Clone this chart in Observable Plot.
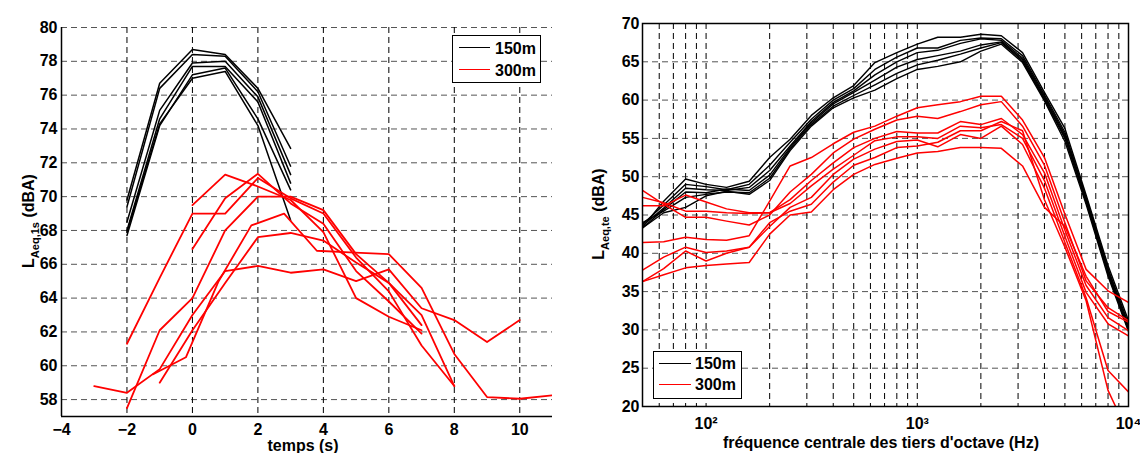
<!DOCTYPE html>
<html><head><meta charset="utf-8">
<script src="https://cdn.jsdelivr.net/npm/d3@7"></script>
<script src="https://cdn.jsdelivr.net/npm/@observablehq/plot@0.6"></script>
<style>
body{margin:0;background:#fff;}
#wrap{position:relative;width:1140px;height:453px;overflow:hidden;font-family:"Liberation Sans",Arial,sans-serif;font-weight:bold;color:#000;background:#fff;}
.host{position:absolute;top:0;}
.host svg{font:bold 16px "Liberation Sans",Arial,sans-serif;overflow:visible;background:transparent}
.legend{position:absolute;background:#fff;border:1.5px solid #000;box-sizing:border-box;font-size:16px;line-height:16px;}
.legend .ln{position:absolute;height:0;}
.legend .tx{position:absolute;white-space:nowrap;}
.ylab{position:absolute;white-space:nowrap;font-size:16px;line-height:16px;transform:translate(-50%,-50%) rotate(-90deg);}
.ylab sub{font-size:11px;position:relative;top:5px;vertical-align:baseline;}
.xlab{position:absolute;white-space:nowrap;font-size:16px;line-height:13px;transform:translateX(-50%);}
</style>
</head><body>
<div id="wrap">
  <div id="left" class="host" style="left:0"></div>
  <div id="right" class="host" style="left:570px"></div>

  <div class="ylab" style="left:29px;top:221px">L<sub>Aeq,1s</sub> (dBA)</div>
  <div class="xlab" style="left:303px;top:439px">temps (s)</div>
  <div class="ylab" style="left:599px;top:214px">L<sub>Aeq,te</sub> (dBA)</div>
  <div class="xlab" style="left:881px;top:436px">fréquence centrale des tiers d'octave (Hz)</div>

  <div class="legend" style="left:452px;top:35px;width:89px;height:48px">
    <div class="ln" style="left:6px;top:11px;width:31px;border-top:1.5px solid #000"></div>
    <div class="tx" style="left:42px;top:5px">150m</div>
    <div class="ln" style="left:6px;top:33px;width:31px;border-top:1.5px solid #ff0000"></div>
    <div class="tx" style="left:42px;top:27px">300m</div>
  </div>
  <div class="legend" style="left:653px;top:351px;width:89px;height:48px">
    <div class="ln" style="left:5px;top:11px;width:32px;border-top:1.5px solid #000"></div>
    <div class="tx" style="left:41px;top:4px">150m</div>
    <div class="ln" style="left:5px;top:32px;width:32px;border-top:1.5px solid #ff0000"></div>
    <div class="tx" style="left:41px;top:25px">300m</div>
  </div>
</div>
<script>
// ---------- Left panel: L_Aeq,1s vs time ----------
const timeTicks = [-4, -2, 0, 2, 4, 6, 8, 10];
const levelTicksLeft = [58, 60, 62, 64, 66, 68, 70, 72, 74, 76, 78, 80];

// 150 m passes, sampled at t = -2 .. 3 s
const time150 = [-2, -1, 0, 1, 2, 3];
const pass150_1 = [69.8, 76.7, 78.7, 78.4, 76.4, 72.85];
const pass150_2 = [69.4, 76.4, 78.4, 78.3, 76.2, 71.8];
const pass150_3 = [68.5, 75.1, 77.9, 78.0, 75.9, 71.3];
const pass150_4 = [68.0, 74.6, 77.7, 77.7, 75.6, 70.8];
const pass150_5 = [67.7, 74.2, 77.2, 77.6, 74.6, 70.4];
const pass150_6 = [67.9, 74.3, 77.0, 77.4, 74.2, 68.6];

// 300 m passes, [time, level]
const pass300_a = [[0,69.5],[1,71.3],[2,70.6],[3,69.8],[4,67.9],[5,64.0],[6,62.9],[7,62.1]];
const pass300_b = [[-2,61.3],[-1,65.2],[0,69.0],[1,69.0],[2,71.1],[3,69.9],[4,69.0],[5,66.4],[6,64.4],[7,61.2],[8,58.8]];
const pass300_c = [[0,66.9],[1,69.9],[2,71.35],[3,69.6],[4,68.4],[5,65.6],[6,63.8],[7,61.9]];
const pass300_d = [[-2,57.5],[-1,62.1],[0,64.0],[1,68.0],[2,70.0],[3,70.0],[4,69.2],[5,66.6],[6,64.9],[7,63.0],[8,58.8]];
const pass300_e = [[-1.2,59.5],[-0.2,60.5],[0.8,65.0],[1.8,68.3],[2.8,69.0],[3.8,66.8],[4.8,66.7],[6,66.6],[7,64.6],[8,60.7],[9,58.15],[10,58.05],[11,58.25]];
const pass300_h = [[-3,58.8],[-2,58.4],[-1,59.8],[0,63.0],[1,65.6],[2,65.9],[3,65.5],[4,65.7],[5,65.0],[6,65.7],[7,63.4],[8,62.7],[9,61.4],[10,62.7]];
const pass300_i = [[-1,59.0],[0,62.1],[1,64.9],[2,67.6],[3,67.85],[4,67.4],[5,66.1],[6,64.9],[7,62.4]];

// ---------- Right panel: third-octave spectra ----------
const bands = [50,63,80,100,125,160,200,250,315,400,500,630,800,1000,1250,1600,2000,2500,3150,4000,5000,6300,8000,10000];
const freqGrid = [60,70,80,90,100,200,300,400,500,600,700,800,900,1000,2000,3000,4000,5000,6000,7000,8000,9000];
const freqLabelTicks = [100, 1000, 10000];
const freqLabels = ["10²", "10³", "10⁴"];
const levelTicksRight = [20, 25, 30, 35, 40, 45, 50, 55, 60, 65, 70];

const spec150_1 = [43.4,46.8,49.7,49.0,48.6,49.4,52.5,54.9,58.0,60.3,61.9,64.9,66.2,67.3,68.2,68.2,68.6,68.4,66.2,61.0,56.3,47.6,38.4,31.2];
const spec150_2 = [43.8,46.3,49.0,48.7,48.3,49.0,51.5,54.5,57.5,60.0,61.5,64.0,65.6,66.8,66.8,67.8,68.1,68.0,65.8,60.7,55.8,47.3,38.0,30.8];
const spec150_3 = [43.6,45.9,48.5,48.3,48.2,48.6,50.8,54.0,57.2,59.7,61.2,63.3,65.0,66.2,66.5,67.4,68.0,67.8,65.5,60.5,55.5,47.1,37.8,30.5];
const spec150_4 = [43.3,45.7,48.0,47.9,48.4,48.2,50.2,53.8,57.0,59.5,61.0,62.6,64.3,65.3,65.8,66.4,67.2,67.6,65.3,60.3,55.2,46.9,37.5,30.2];
const spec150_5 = [44.0,45.5,47.3,47.7,48.0,47.9,49.8,53.6,56.8,59.2,60.6,62.0,63.5,64.6,65.2,66.0,66.8,67.5,65.1,60.1,55.0,46.7,37.3,30.0];
const spec150_6 = [43.3,45.3,46.0,47.5,48.1,47.7,49.5,53.4,56.6,59.0,60.3,61.3,62.8,64.0,64.4,65.0,66.4,67.3,64.9,59.9,54.6,46.4,37.0,29.8];

const spec300_1 = [41.4,41.5,42.1,41.8,41.7,42.3,46.8,51.4,52.5,54.3,55.8,56.6,57.9,59.0,59.4,59.8,60.5,60.5,57.4,52.5,45.1,37.9,35.1,33.6];
const spec300_2 = [48.2,46.4,44.7,44.7,44.2,43.7,45.0,48.0,50.3,53.1,54.9,56.2,57.4,57.9,57.6,58.5,59.4,59.8,56.6,51.5,44.0,36.4,32.9,31.2];
const spec300_3 = [47.3,46.6,45.5,45.5,45.3,45.2,45.3,47.0,49.5,51.8,53.8,55.0,55.9,55.7,55.7,57.2,56.8,57.6,55.5,50.5,43.0,35.8,31.6,29.9];
const spec300_4 = [46.2,46.2,47.6,46.7,45.8,45.3,45.3,46.5,48.8,51.0,52.8,54.7,55.2,55.2,55.0,56.6,56.4,56.8,55.0,49.5,42.2,34.9,30.8,29.2];
const spec300_5 = [37.8,39.5,40.8,40.1,40.3,40.8,43.5,46.0,47.3,50.3,52.3,53.6,54.6,54.8,53.9,55.5,55.0,56.6,54.2,48.5,41.4,34.2,24.7,21.9];
const spec300_6 = [36.3,38.0,40.3,39.0,40.0,40.8,44.0,45.5,46.4,49.3,51.5,52.5,53.8,54.0,54.5,56.0,56.0,57.2,56.0,47.0,40.8,33.8,22.1,16.4];
const spec300_7 = [36.3,37.2,38.1,38.4,38.6,38.8,42.5,45.0,45.4,48.3,50.3,51.6,52.4,53.1,53.3,53.8,53.8,53.7,51.4,46.0,43.5,37.0,32.4,31.0];

// ---------- build tables ----------
const rows150 = [pass150_1,pass150_2,pass150_3,pass150_4,pass150_5,pass150_6]
  .flatMap((vals, k) => vals.map((v, j) => ({id: k, t: time150[j], v})));
const rows300 = [pass300_a,pass300_b,pass300_c,pass300_d,pass300_e,pass300_h,pass300_i]
  .flatMap((pts, k) => pts.map(([t, v]) => ({id: k, t, v})));

const specRows150 = [spec150_1,spec150_2,spec150_3,spec150_4,spec150_5,spec150_6]
  .flatMap((vals, k) => vals.map((v, j) => ({id: k, f: bands[j], v})));
const specRows300 = [spec300_1,spec300_2,spec300_3,spec300_4,spec300_5,spec300_6,spec300_7]
  .flatMap((vals, k) => vals.map((v, j) => ({id: k, f: bands[j], v})));

const dash = "6,4";

const leftPlot = Plot.plot({
  width: 570, height: 453,
  marginLeft: 61, marginRight: 18, marginTop: 27, marginBottom: 37,
  x: {domain: [-4, 11]},
  y: {domain: [57, 80]},
  marks: [
    Plot.gridY(levelTicksLeft, {stroke: "#555", strokeOpacity: 1, strokeDasharray: dash}),
    Plot.gridX(timeTicks, {stroke: "#000", strokeOpacity: 1, strokeDasharray: dash}),
    Plot.line(rows150, {x: "t", y: "v", z: "id", stroke: "#000", strokeWidth: 1.5, clip: true}),
    Plot.line(rows300, {x: "t", y: "v", z: "id", stroke: "#ff0000", strokeWidth: 1.8, clip: true}),
    Plot.ruleX([-4], {stroke: "#000", strokeWidth: 1.5}),
    Plot.ruleY([57], {stroke: "#000", strokeWidth: 1.5}),
    Plot.axisY(levelTicksLeft, {tickSize: 0, tickPadding: 4, label: null, fill: "#000"}),
    Plot.axisX(timeTicks, {tickSize: 0, tickPadding: 7, label: null, fill: "#000"})
  ]
});
document.getElementById("left").appendChild(leftPlot);

const labelOf = new Map(freqLabelTicks.map((d, i) => [d, freqLabels[i]]));
const rightPlot = Plot.plot({
  width: 570, height: 453,
  marginLeft: 72, marginRight: 12, marginTop: 23, marginBottom: 47,
  x: {type: "log", domain: [50, 10000]},
  y: {domain: [20, 70]},
  marks: [
    Plot.gridY(levelTicksRight, {stroke: "#555", strokeOpacity: 1, strokeDasharray: dash}),
    Plot.gridX(freqGrid, {stroke: "#000", strokeOpacity: 1, strokeDasharray: dash}),
    Plot.line(specRows150, {x: "f", y: "v", z: "id", stroke: "#000", strokeWidth: 1.4, clip: true}),
    Plot.line(specRows300, {x: "f", y: "v", z: "id", stroke: "#ff0000", strokeWidth: 1.5, clip: true}),
    Plot.frame({stroke: "#000", strokeWidth: 1.5}),
    Plot.axisY(levelTicksRight, {tickSize: 0, tickPadding: 3, label: null, fill: "#000"}),
    Plot.axisX(freqLabelTicks, {tickSize: 0, tickPadding: 11, label: null, fill: "#000", tickFormat: d => labelOf.get(d)})
  ]
});
document.getElementById("right").appendChild(rightPlot);
</script>
</body></html>
